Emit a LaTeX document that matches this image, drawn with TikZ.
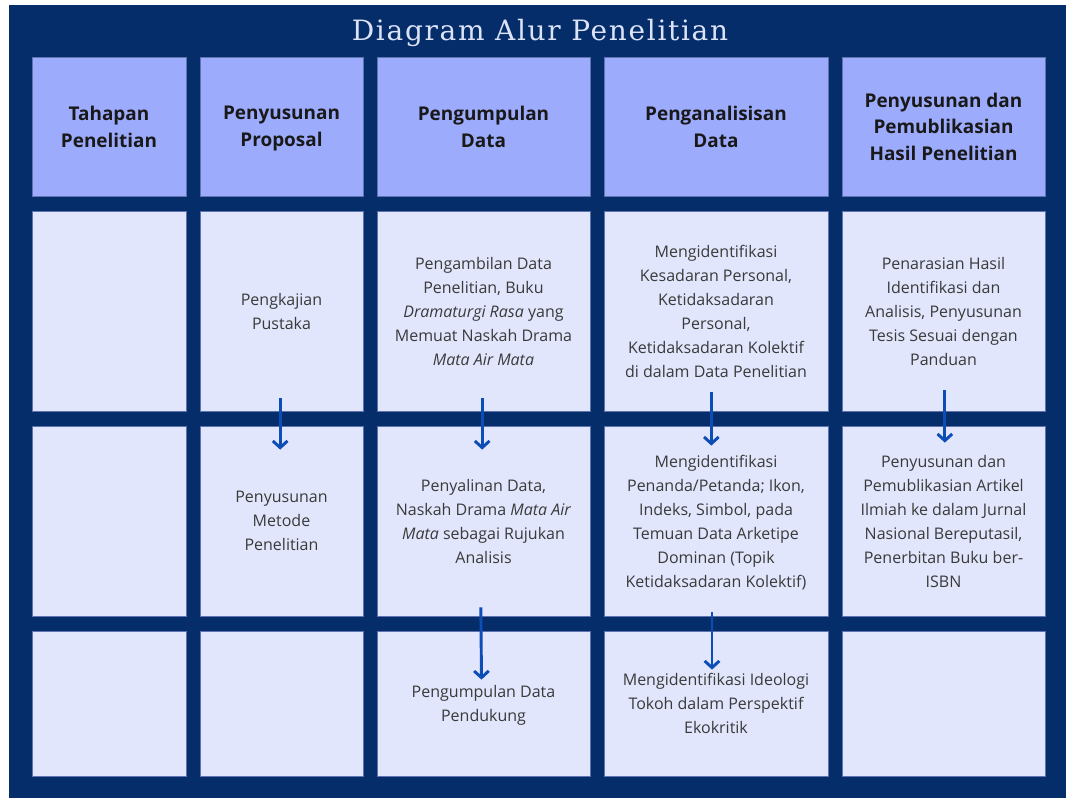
\documentclass[tikz,border=0pt]{standalone}
\usepackage{fontspec}
\setmainfont{Open Sans}
\newfontfamily\titlefont[LetterSpace=6]{DejaVu Serif}
\usepackage{tikz}
\usetikzlibrary{arrows.meta,calc}

\definecolor{navy}{HTML}{042D69}
\definecolor{headfill}{HTML}{9DABFD}
\definecolor{cellfill}{HTML}{E1E6FC}
\definecolor{celledge}{HTML}{5F73AE}
\definecolor{flowblue}{HTML}{0D4DB6}
\definecolor{celltext}{HTML}{3A3A3A}
\definecolor{titletext}{HTML}{DDE3F7}

\begin{document}
\begin{tikzpicture}[x=0.75pt,y=-0.75pt,
  box/.style={rectangle,draw=celledge,line width=0.6pt,inner sep=0pt,align=center,text depth=0pt},
  head/.style={box,fill=headfill,text=black!90,font={\fontsize{14.2}{20}\selectfont\bfseries}},
  cell/.style={box,fill=cellfill,text=celltext,font={\fontsize{12}{18}\selectfont}},
  colA/.style={minimum width=115.5pt},colB/.style={minimum width=122.25pt},
  colC/.style={minimum width=159.75pt},colD/.style={minimum width=168pt},
  colE/.style={minimum width=152.25pt},
  rowH/.style={minimum height=104.25pt},rowA/.style={minimum height=150pt},
  rowB/.style={minimum height=142.5pt},rowC/.style={minimum height=108.75pt},
  flow/.style={-{Straight Barb[length=5pt,width=11pt]},line width=2.2pt,flowblue}]
  \fill[white] (0,0) rectangle (1066,798);
  \useasboundingbox (0,0) rectangle (1066,798);
  \fill[navy] (9,5) rectangle (1066,798);
  \node[text=titletext,font={\titlefont\fontsize{21}{24}\selectfont}] (title) at (540,33) {Diagram Alur Penelitian};

  \node[head,colA,rowH] (h1) at (109,126.5) {Tahapan\\Penelitian};
  \node[head,colB,rowH] (h2) at (281.5,126.5) {Penyusunan\\Proposal};
  \node[head,colC,rowH] (h3) at (483.5,126.5) {Pengumpulan\\Data};
  \node[head,colD,rowH] (h4) at (716,126.5) {Penganalisisan\\Data};
  \node[head,colE,rowH] (h5) at (943.5,126.5) {Penyusunan dan\\Pemublikasian\\Hasil Penelitian};

  \node[cell,colA,rowA] (a1) at (109,311) {};
  \node[cell,colB,rowA] (a2) at (281.5,311) {Pengkajian\\Pustaka};
  \node[cell,colC,rowA] (a3) at (483.5,311) {Pengambilan Data\\Penelitian, Buku\\\textit{Dramaturgi Rasa} yang\\Memuat Naskah Drama\\\textit{Mata Air Mata}};
  \node[cell,colD,rowA] (a4) at (716,311) {Mengidentifikasi\\Kesadaran Personal,\\Ketidaksadaran\\Personal,\\Ketidaksadaran Kolektif\\di dalam Data Penelitian};
  \node[cell,colE,rowA] (a5) at (943.5,311) {Penarasian Hasil\\Identifikasi dan\\Analisis, Penyusunan\\Tesis Sesuai dengan\\Panduan};

  \node[cell,colA,rowB] (b1) at (109,521) {};
  \node[cell,colB,rowB] (b2) at (281.5,521) {Penyusunan\\Metode\\Penelitian};
  \node[cell,colC,rowB] (b3) at (483.5,521) {Penyalinan Data,\\Naskah Drama \textit{Mata Air}\\\textit{Mata} sebagai Rujukan\\Analisis};
  \node[cell,colD,rowB] (b4) at (716,521) {Mengidentifikasi\\Penanda/Petanda; Ikon,\\Indeks, Simbol, pada\\Temuan Data Arketipe\\Dominan (Topik\\Ketidaksadaran Kolektif)};
  \node[cell,colE,rowB] (b5) at (943.5,521) {Penyusunan dan\\Pemublikasian Artikel\\Ilmiah ke dalam Jurnal\\Nasional Bereputasil,\\Penerbitan Buku ber-\\ISBN};

  \node[cell,colA,rowC] (c1) at (109,703.5) {};
  \node[cell,colB,rowC] (c2) at (281.5,703.5) {};
  \node[cell,colC,rowC] (c3) at (483.5,703.5) {Pengumpulan Data\\Pendukung};
  \node[cell,colD,rowC] (c4) at (716,703.5) {Mengidentifikasi Ideologi\\Tokoh dalam Perspektif\\Ekokritik};
  \node[cell,colE,rowC] (c5) at (943.5,703.5) {};

  \draw[flow] ([xshift=-1pt,yshift=9.75pt]a2.south) -- ([xshift=-1pt,yshift=-18pt]b2.north);
  \draw[flow] ([xshift=-1pt,yshift=9.75pt]a3.south) -- ([xshift=-1pt,yshift=-18pt]b3.north);
  \draw[flow] ([xshift=-3.5pt,yshift=14.25pt]a4.south) -- ([xshift=-3.5pt,yshift=-15pt]b4.north);
  \draw[flow] ([xshift=1pt,yshift=15.75pt]a5.south) -- ([xshift=1pt,yshift=-12.75pt]b5.north);
  \draw[flow] ([xshift=-2pt,yshift=6.75pt]b3.south) -- ([xshift=-1.5pt,yshift=-36.75pt]c3.north);
  \draw[flow] ([xshift=-3pt,yshift=3pt]b4.south) -- ([xshift=-3pt,yshift=-29.25pt]c4.north);
\end{tikzpicture}
\end{document}
